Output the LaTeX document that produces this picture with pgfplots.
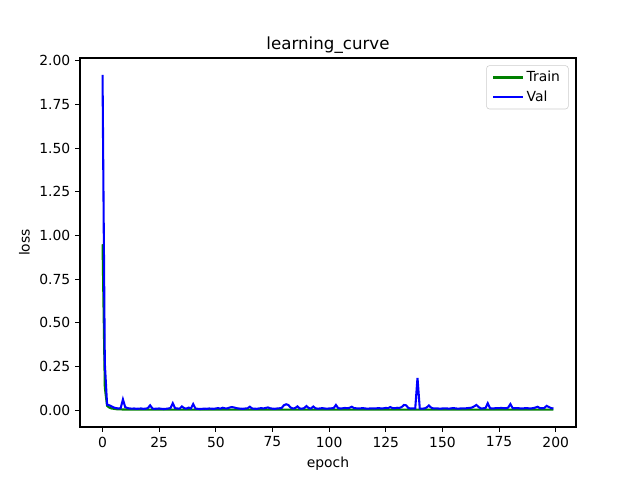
\documentclass[border=0pt]{standalone}
\usepackage{pgfplots}
\pgfplotsset{compat=1.18}
\usepackage{fontspec}
\setmainfont{DejaVu Sans}
\begin{document}
\begin{tikzpicture}
\useasboundingbox (-57.6pt,-38.16pt) rectangle (403.2pt,307.44pt);
\begin{axis}[
  at={(0pt,0pt)}, anchor=south west,
  scale only axis, width=357.12pt, height=265.68pt,
  xmin=-9.95, xmax=208.95, ymin=-0.096, ymax=2.016,
  xtick={0,25,...,200}, ytick={0,0.25,...,2.0},
  yticklabel style={/pgf/number format/.cd, fixed, fixed zerofill, precision=2},
  /pgf/number format/assume math mode=true,
  tick align=outside, xtick pos=bottom, ytick pos=left,
  major tick length=3.5pt,
  every tick/.style={line width=0.8pt, black},
  axis line style={line width=0.8pt},
  tick label style={font=\fontsize{10}{12}\selectfont},
  label style={font=\fontsize{10}{12}\selectfont},
  title style={font=\fontsize{12}{14}\selectfont, yshift=-6pt},
  title={learning\_curve},
  xlabel={epoch}, ylabel={loss},
  legend style={at={(0.985,0.98)}, anchor=north east, draw=black!20, rounded corners=2pt,
    font=\fontsize{10}{12}\selectfont, row sep=1pt, inner xsep=4pt, inner ysep=2pt},
  legend cell align=left,
  legend image code/.code={\draw[#1, line width=1.5pt] (0cm,0cm) -- (0.75cm,0cm);},
]
\addplot[color={rgb,1:red,0;green,0.5;blue,0}, line width=1.5pt] coordinates {
(0,0.95)(1,0.13)(2,0.025)(3,0.015)(4,0.010)(5,0.008)(6,0.006)(7,0.005)(8,0.005)(9,0.004)
(10,0.004)(11,0.004)(12,0.004)(13,0.003)(14,0.003)(15,0.003)(16,0.003)(17,0.003)(18,0.003)(19,0.003)
(20,0.003)(21,0.003)(22,0.003)(23,0.003)(24,0.003)(25,0.003)(26,0.003)(27,0.003)(28,0.003)(29,0.003)
(30,0.003)(31,0.003)(32,0.003)(33,0.003)(34,0.003)(35,0.003)(36,0.003)(37,0.003)(38,0.003)(39,0.003)
(40,0.003)(41,0.003)(42,0.003)(43,0.003)(44,0.003)(45,0.003)(46,0.003)(47,0.003)(48,0.003)(49,0.003)
(50,0.003)(51,0.003)(52,0.003)(53,0.003)(54,0.003)(55,0.003)(56,0.003)(57,0.003)(58,0.003)(59,0.003)
(60,0.003)(61,0.003)(62,0.003)(63,0.003)(64,0.003)(65,0.003)(66,0.003)(67,0.003)(68,0.003)(69,0.003)
(70,0.003)(71,0.003)(72,0.003)(73,0.003)(74,0.003)(75,0.003)(76,0.003)(77,0.003)(78,0.003)(79,0.003)
(80,0.003)(81,0.003)(82,0.003)(83,0.003)(84,0.003)(85,0.003)(86,0.003)(87,0.003)(88,0.003)(89,0.003)
(90,0.003)(91,0.003)(92,0.003)(93,0.003)(94,0.003)(95,0.003)(96,0.003)(97,0.003)(98,0.003)(99,0.003)
(100,0.003)(101,0.003)(102,0.003)(103,0.003)(104,0.003)(105,0.003)(106,0.003)(107,0.003)(108,0.003)(109,0.003)
(110,0.003)(111,0.003)(112,0.003)(113,0.003)(114,0.003)(115,0.003)(116,0.003)(117,0.003)(118,0.003)(119,0.003)
(120,0.003)(121,0.003)(122,0.003)(123,0.003)(124,0.003)(125,0.003)(126,0.003)(127,0.003)(128,0.003)(129,0.003)
(130,0.003)(131,0.003)(132,0.003)(133,0.003)(134,0.003)(135,0.003)(136,0.003)(137,0.003)(138,0.003)(139,0.003)
(140,0.003)(141,0.003)(142,0.003)(143,0.003)(144,0.003)(145,0.003)(146,0.003)(147,0.003)(148,0.003)(149,0.003)
(150,0.003)(151,0.003)(152,0.003)(153,0.003)(154,0.003)(155,0.003)(156,0.003)(157,0.003)(158,0.003)(159,0.003)
(160,0.003)(161,0.003)(162,0.003)(163,0.003)(164,0.003)(165,0.003)(166,0.003)(167,0.003)(168,0.003)(169,0.003)
(170,0.003)(171,0.003)(172,0.003)(173,0.003)(174,0.003)(175,0.003)(176,0.003)(177,0.003)(178,0.003)(179,0.003)
(180,0.003)(181,0.003)(182,0.003)(183,0.003)(184,0.003)(185,0.003)(186,0.003)(187,0.003)(188,0.003)(189,0.003)
(190,0.003)(191,0.003)(192,0.003)(193,0.003)(194,0.003)(195,0.003)(196,0.003)(197,0.003)(198,0.003)(199,0.003)
};
\addlegendentry{Train}
\addplot[color={rgb,1:red,0;green,0;blue,1}, line width=1.5pt] coordinates {
(0,1.92)(1,0.27)(2,0.032)(3,0.028)(4,0.022)(5,0.015)(6,0.012)(7,0.010)(8,0.012)(9,0.062)
(10,0.018)(11,0.012)(12,0.010)(13,0.009)(14,0.010)(15,0.008)(16,0.009)(17,0.010)(18,0.008)(19,0.009)
(20,0.012)(21,0.028)(22,0.010)(23,0.008)(24,0.009)(25,0.010)(26,0.008)(27,0.007)(28,0.008)(29,0.010)
(30,0.012)(31,0.040)(32,0.012)(33,0.010)(34,0.009)(35,0.022)(36,0.012)(37,0.009)(38,0.015)(39,0.010)
(40,0.035)(41,0.010)(42,0.008)(43,0.007)(44,0.008)(45,0.009)(46,0.008)(47,0.010)(48,0.009)(49,0.008)
(50,0.010)(51,0.012)(52,0.009)(53,0.014)(54,0.011)(55,0.010)(56,0.015)(57,0.018)(58,0.016)(59,0.012)
(60,0.010)(61,0.009)(62,0.008)(63,0.010)(64,0.011)(65,0.020)(66,0.010)(67,0.009)(68,0.008)(69,0.010)
(70,0.012)(71,0.010)(72,0.013)(73,0.016)(74,0.011)(75,0.009)(76,0.008)(77,0.010)(78,0.011)(79,0.012)
(80,0.028)(81,0.034)(82,0.030)(83,0.015)(84,0.010)(85,0.012)(86,0.022)(87,0.010)(88,0.009)(89,0.012)
(90,0.024)(91,0.012)(92,0.010)(93,0.021)(94,0.011)(95,0.009)(96,0.010)(97,0.012)(98,0.010)(99,0.009)
(100,0.010)(101,0.011)(102,0.012)(103,0.030)(104,0.012)(105,0.010)(106,0.011)(107,0.013)(108,0.011)(109,0.014)
(110,0.020)(111,0.012)(112,0.011)(113,0.010)(114,0.011)(115,0.012)(116,0.010)(117,0.009)(118,0.010)(119,0.011)
(120,0.010)(121,0.011)(122,0.012)(123,0.010)(124,0.011)(125,0.013)(126,0.012)(127,0.018)(128,0.012)(129,0.011)
(130,0.014)(131,0.013)(132,0.018)(133,0.030)(134,0.028)(135,0.012)(136,0.010)(137,0.011)(138,0.010)(139,0.185)
(140,0.010)(141,0.009)(142,0.010)(143,0.015)(144,0.027)(145,0.015)(146,0.010)(147,0.011)(148,0.010)(149,0.009)
(150,0.010)(151,0.011)(152,0.010)(153,0.009)(154,0.011)(155,0.012)(156,0.010)(157,0.009)(158,0.010)(159,0.011)
(160,0.010)(161,0.012)(162,0.013)(163,0.015)(164,0.022)(165,0.030)(166,0.018)(167,0.010)(168,0.011)(169,0.012)
(170,0.040)(171,0.012)(172,0.010)(173,0.011)(174,0.012)(175,0.012)(176,0.013)(177,0.012)(178,0.011)(179,0.015)
(180,0.035)(181,0.012)(182,0.011)(183,0.012)(184,0.011)(185,0.010)(186,0.011)(187,0.012)(188,0.011)(189,0.010)
(190,0.012)(191,0.015)(192,0.020)(193,0.012)(194,0.011)(195,0.013)(196,0.025)(197,0.018)(198,0.012)(199,0.010)
};
\addlegendentry{Val}
\end{axis}
\end{tikzpicture}
\end{document}
